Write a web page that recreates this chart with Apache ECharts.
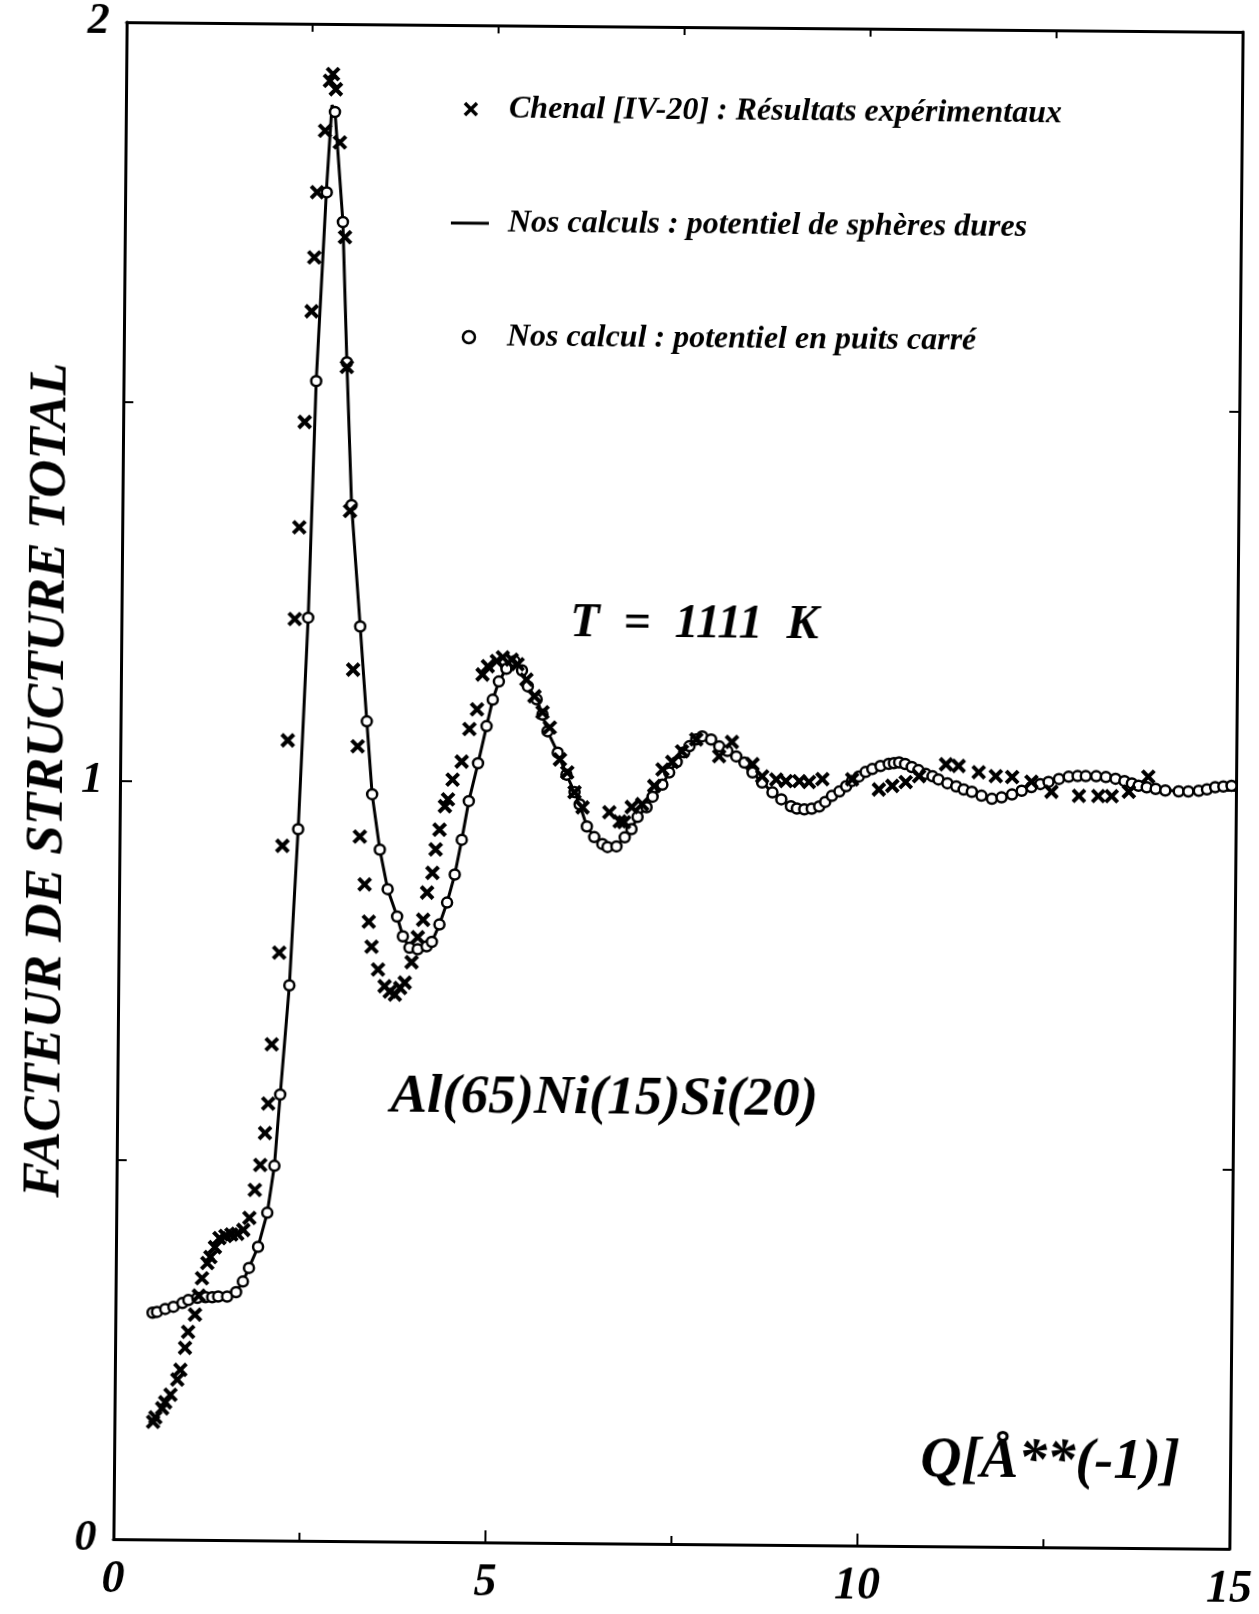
<!DOCTYPE html>
<html>
<head>
<meta charset="utf-8">
<script src="https://cdn.jsdelivr.net/npm/echarts@6/dist/echarts.min.js"></script>
<style>
html, body { margin: 0; padding: 0; background: #ffffff; }
#chart { width: 1259px; height: 1614px; background: #ffffff; transform: rotate(0.5deg); transform-origin: 678px 786px; }
</style>
</head>
<body>
<div id="chart"></div>
<script>
// ---------- DATA ----------
const expName = 'Chenal [IV-20] : Résultats expérimentaux';
const hsName = 'Nos calculs : potentiel de sphères dures';
const swName = 'Nos calcul : potentiel en puits carré';

// Experimental points (crosses)
const expQ = [0.52,0.55,0.64,0.68,0.75,0.84,0.88,0.94,0.98,1.07,1.12,1.16,1.23,1.27,1.33,1.39,1.47,1.55,1.63,1.71,
  1.79,1.86,1.93,1.99,2.03,2.07,2.16,2.19,2.25,2.33,2.38,2.44,2.52,2.55,2.58,2.68,2.74,2.78,2.82,2.88,
  2.96,3.00,3.06,3.12,3.19,3.23,3.30,3.36,3.40,3.49,3.58,3.65,3.72,3.79,3.85,3.94,4.02,4.09,4.14,4.21,
  4.25,4.30,4.37,4.41,4.47,4.59,4.69,4.79,4.86,4.93,5.05,5.13,5.25,5.33,5.45,5.56,5.67,5.77,5.91,6.01,
  6.11,6.22,6.58,6.72,6.78,6.88,7.02,7.18,7.29,7.42,7.55,7.74,8.05,8.22,8.50,8.63,8.82,8.95,9.13,9.26,
  9.44,9.84,10.20,10.38,10.56,10.74,11.10,11.27,11.54,11.77,11.99,12.25,12.52,12.89,13.15,13.33,13.56,13.82];
const expS = [0.155,0.161,0.173,0.181,0.191,0.211,0.224,0.253,0.274,0.297,0.322,0.345,0.365,0.373,0.386,0.398,0.401,0.403,0.404,0.409,
  0.425,0.462,0.495,0.537,0.576,0.654,0.775,0.916,1.055,1.215,1.336,1.475,1.621,1.692,1.778,1.859,1.925,1.934,1.914,1.844,
  1.719,1.548,1.358,1.149,1.048,0.929,0.866,0.817,0.784,0.754,0.732,0.725,0.721,0.730,0.737,0.764,0.797,0.820,0.856,0.882,
  0.913,0.939,0.970,0.979,1.005,1.029,1.072,1.098,1.144,1.155,1.162,1.167,1.164,1.158,1.138,1.116,1.095,1.075,1.033,1.016,
  0.990,0.970,0.964,0.952,0.951,0.971,0.975,0.999,1.021,1.031,1.045,1.061,1.039,1.058,1.029,1.013,1.009,1.007,1.007,1.006,
  1.010,1.010,0.997,1.002,1.007,1.015,1.031,1.029,1.021,1.016,1.015,1.009,0.996,0.991,0.991,0.991,0.997,1.017];

// Hard-sphere calculation (solid line)
const hsQ = [0.50,0.78,1.10,1.50,1.62,1.71,1.79,1.91,2.03,2.12,2.19,2.30,2.40,2.51,2.59,2.71,2.77,2.81,2.93,3.00,
  3.08,3.21,3.31,3.39,3.50,3.61,3.74,3.82,3.91,4.02,4.14,4.21,4.31,4.41,4.51,4.60,4.69,4.81,4.92,5.00,
  5.08,5.18,5.29,5.39,5.47,5.59,5.67,5.74,5.88,6.00,6.11,6.18,6.28,6.38,6.49,6.56,6.68,6.79,6.88,6.96,
  7.08,7.16,7.29,7.38,7.48,7.58,7.65,7.74,7.82,7.94,8.05,8.16,8.28,8.39,8.50,8.63,8.77,8.89,9.02,9.20,
  9.40,9.57,9.76,9.93,10.11,10.33,10.47,10.64,10.83,11.00,11.24,11.45,11.72,11.99,12.25,12.48,12.75,12.98,13.25,13.50,
  13.69,13.92,14.23,14.50,14.72,14.94];
const hsS = [0.299,0.307,0.319,0.321,0.327,0.341,0.359,0.387,0.432,0.494,0.588,0.732,0.938,1.217,1.529,1.790,1.893,1.886,1.739,1.554,
  1.366,1.206,1.081,0.985,0.912,0.860,0.824,0.798,0.783,0.781,0.785,0.791,0.814,0.843,0.880,0.926,0.977,1.027,1.076,1.111,
  1.135,1.152,1.165,1.152,1.129,1.112,1.092,1.070,1.042,1.013,0.990,0.974,0.945,0.931,0.922,0.918,0.919,0.931,0.942,0.958,
  0.971,0.985,1.001,1.017,1.031,1.044,1.052,1.061,1.065,1.061,1.052,1.046,1.039,1.031,1.018,1.005,0.992,0.983,0.974,0.970,
  0.974,0.988,1.001,1.014,1.024,1.031,1.033,1.027,1.018,1.011,1.002,0.995,0.986,0.992,1.002,1.009,1.016,1.017,1.016,1.011,
  1.005,1.001,0.998,0.999,1.004,1.006];

// Square-well calculation (open circles)
const swQ = [0.50,0.56,0.67,0.78,0.90,0.98,1.10,1.21,1.30,1.38,1.50,1.62,1.71,1.79,1.91,2.03,2.12,2.19,2.30,2.40,
  2.51,2.59,2.71,2.81,2.93,3.00,3.08,3.21,3.31,3.39,3.50,3.61,3.74,3.82,3.91,4.02,4.14,4.21,4.31,4.41,
  4.51,4.60,4.69,4.81,4.92,5.00,5.08,5.18,5.29,5.39,5.47,5.59,5.67,5.74,5.88,6.00,6.11,6.18,6.28,6.38,
  6.49,6.56,6.68,6.79,6.88,6.96,7.08,7.16,7.29,7.38,7.48,7.58,7.65,7.74,7.82,7.94,8.05,8.16,8.28,8.39,
  8.50,8.63,8.77,8.89,9.02,9.10,9.20,9.30,9.40,9.48,9.57,9.67,9.76,9.84,9.93,10.02,10.11,10.22,10.33,10.40,
  10.47,10.55,10.64,10.73,10.83,10.92,11.00,11.12,11.24,11.34,11.45,11.58,11.72,11.85,11.99,12.12,12.25,12.37,12.48,12.62,
  12.75,12.87,12.98,13.12,13.25,13.38,13.50,13.60,13.69,13.80,13.92,14.05,14.23,14.36,14.50,14.61,14.72,14.83,14.94];
const swS = [0.299,0.300,0.304,0.307,0.312,0.316,0.319,0.320,0.320,0.321,0.321,0.327,0.341,0.359,0.387,0.432,0.494,0.588,0.732,0.938,
  1.217,1.529,1.778,1.884,1.739,1.554,1.366,1.206,1.081,0.985,0.912,0.860,0.824,0.798,0.783,0.781,0.785,0.791,0.814,0.843,
  0.880,0.926,0.977,1.027,1.076,1.111,1.135,1.152,1.162,1.150,1.129,1.112,1.092,1.070,1.042,1.013,0.990,0.974,0.945,0.931,
  0.922,0.918,0.919,0.931,0.942,0.958,0.971,0.985,1.001,1.017,1.031,1.044,1.052,1.061,1.065,1.061,1.052,1.046,1.039,1.031,
  1.018,1.005,0.992,0.983,0.974,0.971,0.970,0.971,0.974,0.980,0.988,0.994,1.001,1.008,1.014,1.020,1.024,1.028,1.031,1.032,
  1.033,1.031,1.027,1.023,1.018,1.015,1.011,1.006,1.002,0.998,0.995,0.990,0.986,0.988,0.992,0.997,1.002,1.006,1.009,1.013,
  1.016,1.017,1.017,1.017,1.016,1.014,1.011,1.008,1.005,1.003,1.001,0.999,0.998,0.998,0.999,1.001,1.004,1.005,1.006];

// Axis settings
const qMin = 0, qMax = 15, qStep = 5;
const sMin = 0, sMax = 2, sStep = 1;
const yTitle = 'FACTEUR DE STRUCTURE TOTAL';
const tempText = 'T  =  1111  K';
const alloyText = 'Al(65)Ni(15)Si(20)';
const qUnitText = 'Q[Å**(-1)]';

// ---------- CHART ----------
const FONT = '"Liberation Serif", "Times New Roman", serif';
const pairs = (xs, ys) => xs.map((x, i) => [x, ys[i]]);
const crossPath = 'path://M0,0L10,10M10,0L0,10';
const dashIcon = 'path://M0,0H40V3H0Z';

const frameLine = { show: true, onZero: false, lineStyle: { color: '#000', width: 3 } };
const labelStyle = (size, margin) => ({
  color: '#000', fontFamily: FONT, fontStyle: 'italic', fontWeight: 'bold', fontSize: size, margin: margin
});

const chart = echarts.init(document.getElementById('chart'), null, { renderer: 'canvas' });
chart.setOption({
  animation: false,
  backgroundColor: '#ffffff',
  grid: { left: 120, right: 23, top: 27, bottom: 70, containLabel: false, outerBoundsMode: 'none' },
  legend: {
    orient: 'vertical', left: 441, top: 89, itemGap: 80, itemWidth: 38, itemHeight: 12,
    selectedMode: false,
    textStyle: { color: '#000', fontFamily: FONT, fontStyle: 'italic', fontWeight: 'bold', fontSize: 32, lineHeight: 34, padding: [0, 0, 0, 14] },
    data: [
      { name: expName, itemStyle: { color: '#000', borderColor: '#000', borderWidth: 3.5 } },
      { name: hsName, icon: dashIcon, itemStyle: { color: '#000', borderWidth: 0 } },
      { name: swName, itemStyle: { color: '#fff', borderColor: '#000', borderWidth: 2.5 } }
    ]
  },
  xAxis: [
    {
      type: 'value', min: qMin, max: qMax, interval: qStep, position: 'bottom',
      axisLine: frameLine,
      axisTick: { show: true, inside: true, length: 12, lineStyle: { color: '#000', width: 2 } },
      minorTick: { show: true, splitNumber: 2, length: 8, lineStyle: { color: '#000', width: 2 } },
      axisLabel: labelStyle(46, 18),
      splitLine: { show: false }, minorSplitLine: { show: false }
    },
    {
      type: 'value', min: qMin, max: qMax, interval: qStep, position: 'top',
      axisLine: frameLine,
      axisTick: { show: true, inside: true, length: 8, lineStyle: { color: '#000', width: 2 } },
      minorTick: { show: true, splitNumber: 2, length: 8, lineStyle: { color: '#000', width: 2 } },
      axisLabel: { show: false },
      splitLine: { show: false }, minorSplitLine: { show: false }
    }
  ],
  yAxis: [
    {
      type: 'value', min: sMin, max: sMax, interval: sStep, position: 'left',
      name: yTitle, nameLocation: 'middle', nameRotate: 90, nameGap: 45, nameMoveOverlap: false,
      nameTextStyle: { color: '#000', fontFamily: FONT, fontStyle: 'italic', fontWeight: 'bold', fontSize: 53 },
      axisLine: frameLine,
      axisTick: { show: true, inside: true, length: 12, lineStyle: { color: '#000', width: 2 } },
      minorTick: { show: true, splitNumber: 2, length: 10, lineStyle: { color: '#000', width: 2 } },
      axisLabel: labelStyle(44, 17),
      splitLine: { show: false }, minorSplitLine: { show: false }
    },
    {
      type: 'value', min: sMin, max: sMax, interval: sStep, position: 'right',
      axisLine: frameLine,
      axisTick: { show: true, inside: true, length: 10, lineStyle: { color: '#000', width: 2 } },
      minorTick: { show: true, splitNumber: 2, length: 10, lineStyle: { color: '#000', width: 2 } },
      axisLabel: { show: false },
      splitLine: { show: false }, minorSplitLine: { show: false }
    }
  ],
  graphic: [
    { type: 'text', x: 693, y: 625, style: { text: tempText, textAlign: 'center', textVerticalAlign: 'middle', fill: '#000', fontFamily: FONT, fontStyle: 'italic', fontWeight: 'bold', fontSize: 48 } },
    { type: 'text', x: 607, y: 1100, style: { text: alloyText, textAlign: 'center', textVerticalAlign: 'middle', fill: '#000', fontFamily: FONT, fontStyle: 'italic', fontWeight: 'bold', fontSize: 55 } },
    { type: 'text', x: 1056, y: 1459, style: { text: qUnitText, textAlign: 'center', textVerticalAlign: 'middle', fill: '#000', fontFamily: FONT, fontStyle: 'italic', fontWeight: 'bold', fontSize: 57 } }
  ],
  series: [
    {
      name: hsName, type: 'line', xAxisIndex: 0, yAxisIndex: 0,
      data: pairs(hsQ, hsS), symbol: 'none', smooth: false, z: 2,
      lineStyle: { color: '#000', width: 3 }, itemStyle: { color: '#000' }
    },
    {
      name: swName, type: 'scatter', xAxisIndex: 0, yAxisIndex: 0,
      data: pairs(swQ, swS), symbol: 'circle', symbolSize: 10, z: 3,
      itemStyle: { color: '#fff', borderColor: '#000', borderWidth: 2.5, opacity: 1 }
    },
    {
      name: expName, type: 'scatter', xAxisIndex: 0, yAxisIndex: 0,
      data: pairs(expQ, expS), symbol: crossPath, symbolSize: 12, z: 4,
      itemStyle: { color: '#000', borderColor: '#000', borderWidth: 4, opacity: 1 }
    }
  ]
});
</script>
</body>
</html>
